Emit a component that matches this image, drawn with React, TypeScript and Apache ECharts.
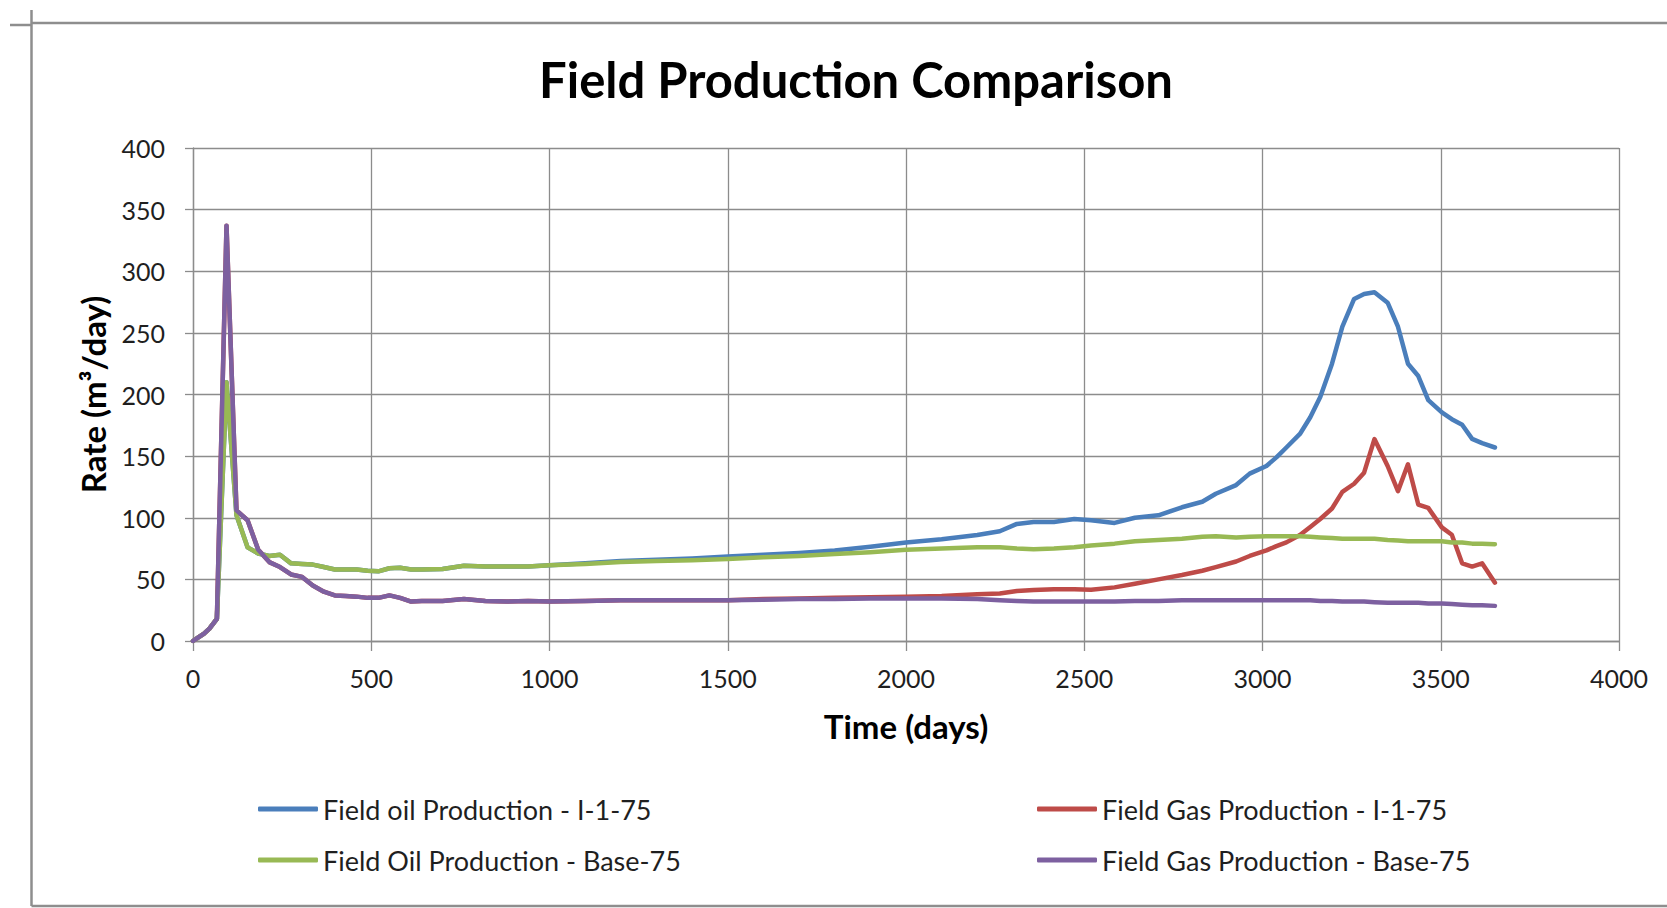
import React, { useEffect, useRef } from "react";
import * as echarts from "echarts";

const days = [
  0, 15, 31, 46, 67, 94, 122, 153, 183, 214, 244, 275, 306, 336, 367, 398, 428, 459, 490, 520,
  551, 581, 612, 642, 700, 760, 820, 880, 940, 1000, 1100, 1200, 1300, 1400, 1500, 1600, 1700, 1800, 1900, 2000,
  2100, 2200, 2263, 2311, 2358, 2415, 2472, 2519, 2585, 2642, 2708, 2774, 2831, 2869, 2926, 2964, 3011, 3039, 3067, 3105,
  3134, 3162, 3195, 3224, 3257, 3285, 3314, 3351, 3380, 3408, 3437, 3465, 3503, 3531, 3560, 3588, 3616, 3652,
];

const oilI175 = [
  0, 3, 6, 10, 18, 210, 102, 76, 71, 69, 70, 63, 62.5, 62, 60, 58, 58, 58, 57, 56.5,
  59, 59.5, 58, 58, 58.5, 61, 60.5, 60.5, 60.5, 61.5, 63, 65, 66, 67, 68.5, 70, 71.5, 73.5, 76.5, 80,
  82.5, 86, 89, 95, 96.5, 96.5, 99, 98, 95.8, 100, 102, 108.5, 113, 119.5, 126.5, 135.8, 142, 149, 157, 168,
  181.5, 198, 225, 255, 277.5, 281.5, 283, 274.5, 255, 225, 215, 195.5, 185.5, 180, 175.5, 164, 160.5, 157,
];

const gasI175 = [
  0, 3, 6, 10, 18, 337, 106, 98, 74, 64, 60, 54, 52, 45, 40, 37, 36.5, 36, 35, 35,
  37, 35, 32, 32.5, 32.5, 34, 32.5, 32, 32.5, 32, 32.5, 33, 33, 33, 33, 34, 34.5, 35, 35.5, 36,
  36.5, 38, 38.6, 40.5, 41.3, 42, 42, 41.5, 43.5, 46.5, 50, 53.5, 57, 60, 64.5, 69, 73.5, 77, 80, 86,
  92.5, 99, 107.5, 121, 127.6, 136.6, 163.8, 142, 121.6, 143.4, 110.7, 108, 92.2, 86.2, 63, 60.4, 63, 47.3,
];

const oilBase75 = [
  0, 3, 6, 10, 18, 210, 102, 76, 71, 69, 70, 63, 62.5, 62, 60, 58, 58, 58, 57, 56.5,
  59, 59.5, 58, 58, 58.5, 61, 60.5, 60.5, 60.5, 61.5, 62.5, 64, 65, 65.5, 66.5, 68, 69, 70.5, 72, 74,
  75, 76, 76, 75, 74.5, 75, 76, 77.5, 79, 81, 82, 83, 84.5, 85, 84, 84.5, 85, 85, 85, 85,
  84.5, 84, 83.5, 83, 83, 83, 83, 82, 81.5, 81, 81, 81, 81, 80, 80, 79, 79, 78.5,
];

const gasBase75 = [
  0, 3, 6, 10, 18, 337, 106, 98, 74, 64, 60, 54, 52, 45, 40, 37, 36.5, 36, 35, 35,
  37, 35, 32, 32.5, 32.5, 34, 32.5, 32, 32.5, 32, 32.5, 33, 33, 33, 33, 33.5, 34, 34, 34.5, 34.5,
  34.5, 34, 33, 32.5, 32, 32, 32, 32, 32, 32.5, 32.5, 33, 33, 33, 33, 33, 33, 33, 33, 33,
  33, 32.5, 32.5, 32, 32, 32, 31.5, 31, 31, 31, 31, 30.5, 30.5, 30, 29.5, 29, 29, 28.5,
];

const seriesNames = [
  "Field oil Production - I-1-75",
  "Field Gas Production - I-1-75",
  "Field Oil Production - Base-75",
  "Field Gas Production - Base-75",
];
const seriesValues = [oilI175, gasI175, oilBase75, gasBase75];
const seriesColors = ["#4A7EBB", "#BE4B48", "#98B954", "#7D60A0"];

const FONT = "Lato, 'Noto Sans', sans-serif";
const GRID_COLOR = "#8c8c8c";

export default function App() {
  const ref = useRef<HTMLDivElement>(null);

  useEffect(() => {
    if (!ref.current) return;
    const chart = echarts.init(ref.current, undefined, { renderer: "svg" });
    const frame = { stroke: "#8e8e8e", lineWidth: 2.5 };
    const legendText = { fontFamily: FONT, fontSize: 27, color: "#1f1f1f", lineHeight: 30 };
    const option: any = {
      animation: false,
      backgroundColor: "#ffffff",
      textStyle: { fontFamily: FONT },
      title: {
        text: "Field Production Comparison",
        left: 851,
        top: 49,
        textAlign: "center",
        textStyle: { fontFamily: FONT, fontSize: 49, fontWeight: "bold", color: "#000000" },
      },
      grid: { left: 193, right: 48, top: 148, bottom: 267, containLabel: false },
      xAxis: {
        type: "value",
        min: 0,
        max: 4000,
        interval: 500,
        name: "Time (days)",
        nameLocation: "middle",
        nameGap: 68,
        nameTextStyle: { fontFamily: FONT, fontSize: 33, fontWeight: "bold", color: "#000" },
        axisLine: { show: true, lineStyle: { color: GRID_COLOR, width: 1.3 } },
        axisTick: { show: true, length: 10, lineStyle: { color: GRID_COLOR, width: 1.3 } },
        axisLabel: {
          fontFamily: FONT,
          fontSize: 25,
          color: "#1f1f1f",
          margin: 24,
          formatter: (v: number) => String(v),
        },
        splitLine: { show: true, lineStyle: { color: GRID_COLOR, width: 1.3 } },
      },
      yAxis: {
        type: "value",
        min: 0,
        max: 400,
        interval: 50,
        name: "Rate (m³/day)",
        nameLocation: "middle",
        nameGap: 84,
        nameTextStyle: { fontFamily: FONT, fontSize: 33, fontWeight: "bold", color: "#000" },
        axisLine: { show: true, lineStyle: { color: GRID_COLOR, width: 1.3 } },
        axisTick: { show: true, length: 8, lineStyle: { color: GRID_COLOR, width: 1.3 } },
        axisLabel: {
          fontFamily: FONT,
          fontSize: 25,
          color: "#1f1f1f",
          margin: 28,
          formatter: (v: number) => String(v),
        },
        splitLine: { show: true, lineStyle: { color: GRID_COLOR, width: 1.3 } },
      },
      legend: [
        {
          left: 253,
          top: 789,
          orient: "vertical",
          itemWidth: 60,
          itemHeight: 5,
          itemGap: 21,
          icon: "roundRect",
          data: [seriesNames[0], seriesNames[2]],
          textStyle: legendText,
        },
        {
          left: 1032,
          top: 789,
          orient: "vertical",
          itemWidth: 60,
          itemHeight: 5,
          itemGap: 21,
          icon: "roundRect",
          data: [seriesNames[1], seriesNames[3]],
          textStyle: legendText,
        },
      ],
      series: seriesNames.map((name, i) => ({
        name,
        type: "line",
        data: days.map((d, j) => [d, seriesValues[i][j]]),
        showSymbol: false,
        symbol: "none",
        color: seriesColors[i],
        lineStyle: { color: seriesColors[i], width: 4.5, join: "round", cap: "round" },
        z: 2 + i,
      })),
      graphic: [
        { type: "line", shape: { x1: 31.5, y1: 10, x2: 31.5, y2: 906 }, style: frame, silent: true },
        { type: "line", shape: { x1: 31.5, y1: 23, x2: 1667, y2: 23 }, style: frame, silent: true },
        { type: "line", shape: { x1: 10, y1: 25, x2: 31.5, y2: 25 }, style: frame, silent: true },
        { type: "line", shape: { x1: 31.5, y1: 906, x2: 1667, y2: 906 }, style: frame, silent: true },
      ],
    };
    chart.setOption(option);
    return () => chart.dispose();
  }, []);

  return (
    <div
      ref={ref}
      style={{ position: "fixed", left: 0, top: 0, width: "1667px", height: "908px", background: "#fff" }}
    />
  );
}
